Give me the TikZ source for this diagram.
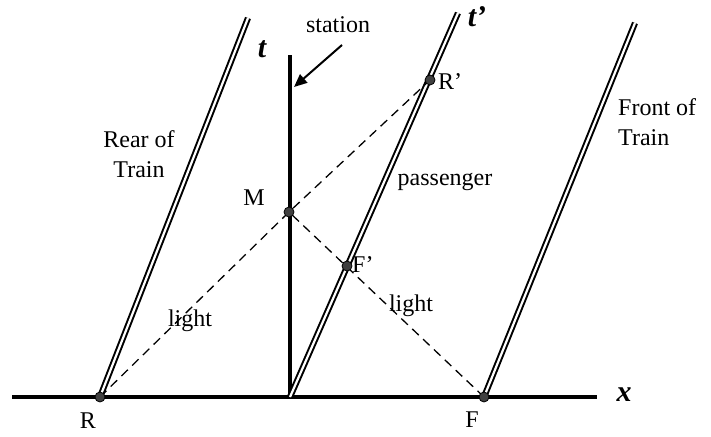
\documentclass[tikz,border=0pt]{standalone}
\usepackage{fontspec}
\setmainfont{Liberation Serif}
\usetikzlibrary{arrows.meta}
\begin{document}
\begin{tikzpicture}[x=1pt,y=-1pt,
  axis/.style={line width=3.6pt},
  world/.style={line width=2pt,double=white,double distance=2.2pt},
  light/.style={line width=1.3pt,dash pattern=on 9pt off 6pt},
  dot/.style={circle,fill=black!75,draw=black,line width=0.8pt,inner sep=0pt,minimum size=10pt},
  lbl/.style={font=\fontsize{24}{30}\selectfont,inner sep=0pt,align=center},
  axlbl/.style={font=\fontsize{30}{32}\selectfont\bfseries\itshape,inner sep=0pt}]
\useasboundingbox (0,0) rectangle (711,436);
% coordinates
\coordinate (xl) at (12,397);
\coordinate (xr) at (597,397);
\coordinate (tb) at (290,397);
\coordinate (tt) at (290,55);
\coordinate (Rtop) at (248,18);
\coordinate (Ptop) at (458,13);
\coordinate (Ftop) at (635,23);
\coordinate (sa) at (342,45);
\coordinate (sb) at (294,87);
% axes
\draw[axis] (xl) -- (xr);
\draw[axis] (tb) -- (tt);
% points
\node[dot,draw=none,fill=none] (R) at (100,397) {};
\node[dot,draw=none,fill=none] (F) at (484,397) {};
\node[dot,draw=none,fill=none] (M) at (289,212) {};
\node[dot,draw=none,fill=none] (Rp) at (430,80) {};
\node[dot,draw=none,fill=none] (Fp) at (347,266) {};
% world lines
\draw[world] (R.center) -- (Rtop);
\draw[world] (tb) -- (Ptop);
\draw[world] (F.center) -- (Ftop);
% light rays
\draw[light] (R.center) -- (M.center) -- (Rp.center);
\draw[light] (F.center) -- (M.center);
% dots
\foreach \n in {R,F,M,Rp,Fp} \node[dot] at (\n) {};
% station arrow
\draw[line width=2pt,-{Triangle[length=13pt,width=11pt]}] (sa) -- (sb);
% labels
\node[lbl] (station) at (338,25) {station};
\node[axlbl] (tlab) at (262,49) {t};
\node[axlbl] (tplab) at (477,17) {t’};
\node[axlbl] (xlab) at (624,395) {x};
\node[lbl] (Rlab) at (88,421) {R};
\node[lbl] (Flab) at (472,420) {F};
\node[lbl] (Mlab) at (254,198) {M};
\node[lbl,anchor=west] (Rplab) at (438,82) {R’};
\node[lbl,anchor=west] (Fplab) at (352,265) {F’};
\node[lbl] (rear) at (139,154) {Rear of\\Train};
\node[lbl,anchor=west,align=left] (front) at (618,122) {Front of\\Train};
\node[lbl] (pass) at (445,182) {passenger};
\node[lbl] (l1) at (190,321) {light};
\node[lbl] (l2) at (411,306) {light};
\end{tikzpicture}
\end{document}
